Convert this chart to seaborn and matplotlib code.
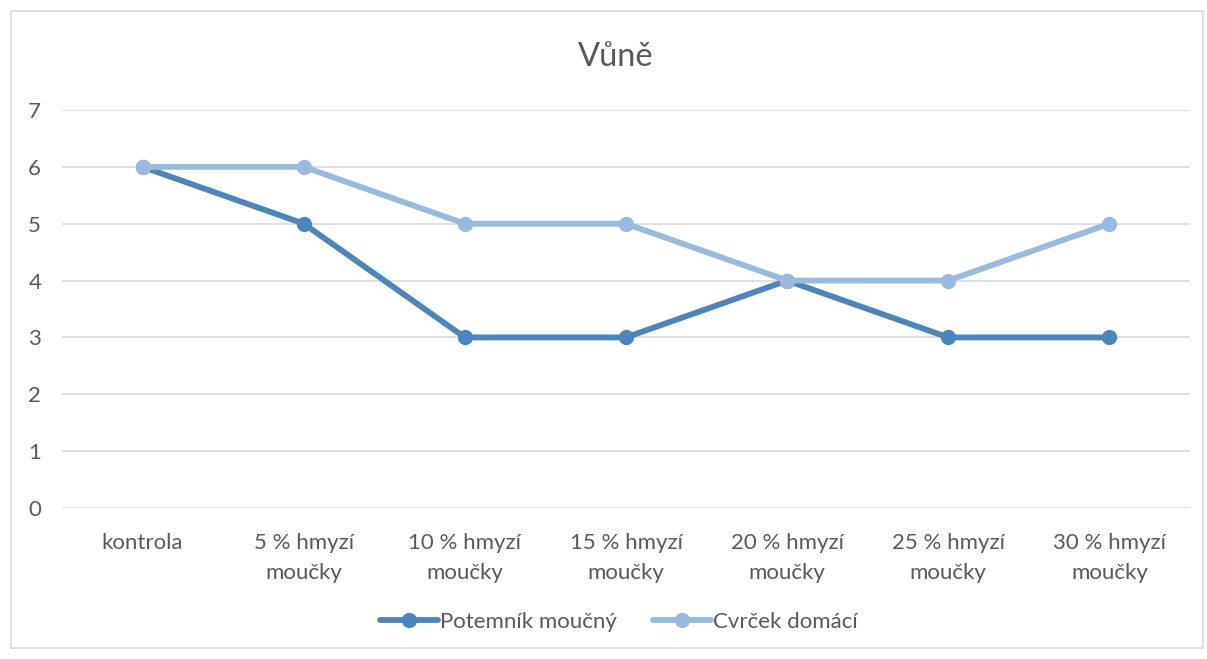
import pandas as pd
import matplotlib.pyplot as plt
import seaborn as sns
from matplotlib.patches import Rectangle

# Data
categories = ['kontrola', '5 % hmyzí\nmoučky', '10 % hmyzí\nmoučky', '15 % hmyzí\nmoučky',
              '20 % hmyzí\nmoučky', '25 % hmyzí\nmoučky', '30 % hmyzí\nmoučky']
potemnik = [6, 5, 3, 3, 4, 3, 3]
cvrcek = [6, 6, 5, 5, 4, 4, 5]
series_names = ['Potemník moučný', 'Cvrček domácí']
colors = ['#4A85BE', '#98B9E0']

df = pd.DataFrame({
    'Kategorie': categories * 2,
    'Hodnota': potemnik + cvrcek,
    'Série': [series_names[0]] * len(categories) + [series_names[1]] * len(categories),
})

sns.set_theme(style='white')
plt.rcParams['font.family'] = ['Lato', 'DejaVu Sans']

fig = plt.figure(figsize=(12.07, 6.59), dpi=100)
ax = fig.add_axes([62 / 1207, 1 - 508 / 659, (1190 - 62) / 1207, (508 - 110) / 659])

sns.lineplot(data=df, x='Kategorie', y='Hodnota', hue='Série', palette=colors,
             marker='o', markersize=11, markeredgewidth=0, linewidth=4.2,
             sort=False, ax=ax, legend=True)

ax.set_ylim(0, 7)
ax.set_xlim(-0.5, len(categories) - 0.5)
ax.set_yticks(range(0, 8))
ax.yaxis.grid(True, color='#D9D9D9', linewidth=1.2)
ax.xaxis.grid(False)
for s in ax.spines.values():
    s.set_visible(False)
ax.tick_params(axis='both', length=0, labelsize=16, labelcolor='#595959')
ax.tick_params(axis='y', pad=15)
ax.tick_params(axis='x', pad=18)
for lbl in ax.get_xticklabels():
    lbl.set_linespacing(1.65)
ax.set_xlabel('')
ax.set_ylabel('')

fig.text(616 / 1207, 1 - 57 / 659, 'Vůně', ha='center', va='center', fontsize=23.5, color='#595959')

handles, labels = ax.get_legend_handles_labels()
ax.legend(handles, labels, loc='center', bbox_to_anchor=((619 - 62) / (1190 - 62), (508 - 622) / (508 - 110)),
          ncol=2, frameon=False, fontsize=16, labelcolor='#595959', handlelength=2.6,
          handletextpad=0.1, columnspacing=1.6)

fig.patches.append(Rectangle((11 / 1207, 1 - 648 / 659), (1203 - 11) / 1207, (648 - 11) / 659,
                             transform=fig.transFigure, fill=False, edgecolor='#D9D9D9', linewidth=1.2))

fig.savefig('out.png', dpi=100, facecolor='white')
